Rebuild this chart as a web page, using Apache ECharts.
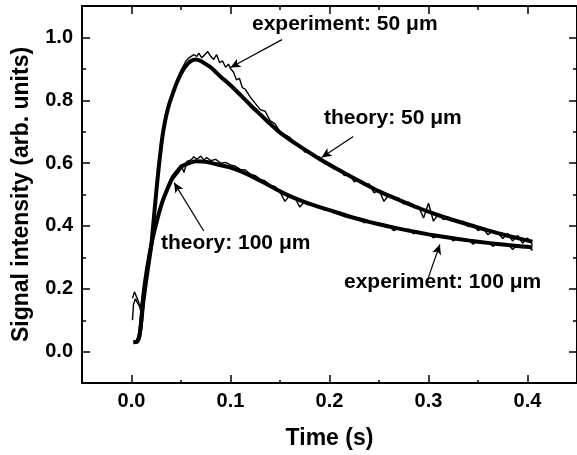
<!DOCTYPE html>
<html>
<head>
<meta charset="utf-8">
<script src="https://cdn.jsdelivr.net/npm/echarts@6/dist/echarts.min.js"></script>
<style>
  html, body { margin: 0; padding: 0; background: #fff; }
  #main { width: 577px; height: 455px; }
</style>
</head>
<body>
<div id="main"></div>
<script>
// tick values
var xMajor = [0, 0.1, 0.2, 0.3, 0.4];
var xMinor = [0.05, 0.15, 0.25, 0.35];
var yMajor = [0, 0.2, 0.4, 0.6, 0.8, 1.0];
var yMinor = [0.1, 0.3, 0.5, 0.7, 0.9];

// theory curves
var theoryTime50 = [0.002, 0.006, 0.008, 0.010, 0.012, 0.015, 0.020, 0.023, 0.026, 0.028, 0.030, 0.032, 0.035, 0.038, 0.041, 0.045, 0.050, 0.055, 0.060, 0.065, 0.070, 0.075, 0.080, 0.090, 0.100, 0.110, 0.120, 0.130, 0.140, 0.150, 0.170, 0.190, 0.210, 0.230, 0.250, 0.270, 0.290, 0.310, 0.330, 0.350, 0.370, 0.390, 0.405];
var theory50 = [0.030, 0.033, 0.050, 0.100, 0.160, 0.230, 0.340, 0.440, 0.540, 0.600, 0.655, 0.700, 0.750, 0.787, 0.815, 0.850, 0.885, 0.910, 0.925, 0.930, 0.925, 0.915, 0.905, 0.875, 0.848, 0.817, 0.785, 0.755, 0.725, 0.697, 0.653, 0.613, 0.577, 0.543, 0.510, 0.483, 0.457, 0.434, 0.414, 0.395, 0.377, 0.361, 0.350];

var theoryTime100 = [0.002, 0.006, 0.009, 0.012, 0.016, 0.021, 0.026, 0.031, 0.036, 0.041, 0.046, 0.051, 0.058, 0.065, 0.075, 0.085, 0.100, 0.110, 0.120, 0.130, 0.140, 0.150, 0.160, 0.170, 0.180, 0.190, 0.200, 0.220, 0.240, 0.260, 0.280, 0.300, 0.320, 0.340, 0.360, 0.380, 0.405];
var theory100 = [0.030, 0.032, 0.070, 0.180, 0.270, 0.355, 0.420, 0.475, 0.515, 0.550, 0.570, 0.590, 0.600, 0.606, 0.604, 0.597, 0.586, 0.574, 0.560, 0.544, 0.527, 0.510, 0.495, 0.482, 0.470, 0.460, 0.450, 0.430, 0.413, 0.398, 0.385, 0.373, 0.363, 0.354, 0.346, 0.339, 0.332];

// experiment traces
var expTime50 = [0.001, 0.003, 0.005, 0.007, 0.010, 0.013, 0.015, 0.020, 0.025, 0.030, 0.035, 0.040, 0.045, 0.050, 0.055, 0.058, 0.060, 0.063, 0.066, 0.068, 0.071, 0.074, 0.077, 0.080, 0.083, 0.086, 0.089, 0.092, 0.095, 0.098, 0.100, 0.103, 0.106, 0.109, 0.112, 0.115, 0.120, 0.125, 0.130, 0.135, 0.140, 0.145, 0.150, 0.155, 0.160, 0.165, 0.170, 0.175, 0.180, 0.185, 0.190, 0.195, 0.200, 0.205, 0.210, 0.215, 0.220, 0.225, 0.230, 0.235, 0.240, 0.245, 0.250, 0.255, 0.260, 0.265, 0.270, 0.275, 0.280, 0.285, 0.290, 0.295, 0.300, 0.305, 0.310, 0.315, 0.320, 0.325, 0.330, 0.335, 0.340, 0.345, 0.350, 0.355, 0.360, 0.365, 0.370, 0.375, 0.380, 0.385, 0.390, 0.395, 0.400, 0.405];
var exp50 = [0.170, 0.190, 0.175, 0.160, 0.120, 0.190, 0.240, 0.350, 0.530, 0.660, 0.755, 0.810, 0.855, 0.895, 0.925, 0.935, 0.940, 0.945, 0.940, 0.950, 0.935, 0.945, 0.955, 0.940, 0.930, 0.945, 0.920, 0.925, 0.905, 0.915, 0.900, 0.890, 0.865, 0.870, 0.840, 0.835, 0.810, 0.790, 0.770, 0.765, 0.735, 0.725, 0.700, 0.690, 0.682, 0.660, 0.658, 0.635, 0.638, 0.620, 0.620, 0.598, 0.600, 0.580, 0.582, 0.560, 0.565, 0.540, 0.548, 0.530, 0.534, 0.505, 0.515, 0.478, 0.500, 0.492, 0.488, 0.470, 0.476, 0.462, 0.462, 0.425, 0.472, 0.415, 0.438, 0.420, 0.428, 0.418, 0.412, 0.415, 0.398, 0.405, 0.385, 0.393, 0.372, 0.385, 0.378, 0.360, 0.376, 0.352, 0.370, 0.345, 0.362, 0.340];

var expTime100 = [0.001, 0.002, 0.004, 0.006, 0.009, 0.012, 0.016, 0.021, 0.026, 0.031, 0.036, 0.041, 0.046, 0.050, 0.053, 0.056, 0.060, 0.063, 0.066, 0.070, 0.073, 0.076, 0.080, 0.085, 0.090, 0.095, 0.100, 0.105, 0.110, 0.115, 0.120, 0.125, 0.130, 0.135, 0.140, 0.145, 0.150, 0.155, 0.160, 0.165, 0.170, 0.175, 0.180, 0.185, 0.190, 0.195, 0.200, 0.205, 0.210, 0.215, 0.220, 0.225, 0.230, 0.235, 0.240, 0.245, 0.250, 0.255, 0.260, 0.265, 0.270, 0.275, 0.280, 0.285, 0.290, 0.295, 0.300, 0.305, 0.310, 0.315, 0.320, 0.325, 0.330, 0.335, 0.340, 0.345, 0.350, 0.355, 0.360, 0.365, 0.370, 0.375, 0.380, 0.385, 0.390, 0.395, 0.400, 0.405];
var exp100 = [0.100, 0.150, 0.168, 0.155, 0.140, 0.190, 0.270, 0.360, 0.430, 0.485, 0.525, 0.560, 0.580, 0.595, 0.570, 0.605, 0.610, 0.620, 0.612, 0.622, 0.610, 0.618, 0.608, 0.612, 0.600, 0.602, 0.594, 0.590, 0.580, 0.578, 0.565, 0.560, 0.548, 0.543, 0.530, 0.525, 0.508, 0.478, 0.498, 0.490, 0.460, 0.478, 0.472, 0.462, 0.462, 0.450, 0.452, 0.443, 0.445, 0.430, 0.432, 0.424, 0.425, 0.410, 0.416, 0.405, 0.410, 0.398, 0.400, 0.385, 0.393, 0.386, 0.390, 0.375, 0.382, 0.376, 0.375, 0.362, 0.370, 0.362, 0.367, 0.352, 0.360, 0.355, 0.357, 0.342, 0.352, 0.345, 0.350, 0.335, 0.345, 0.338, 0.343, 0.325, 0.340, 0.330, 0.338, 0.322];

function zip(xs, ys) {
    var out = [];
    for (var i = 0; i < xs.length; i++) {
        out.push([xs[i], ys[i]]);
    }
    return out;
}

var FONT = '"Liberation Sans", Arial, Helvetica, sans-serif';
var chart = echarts.init(document.getElementById('main'));

function xAxisOf(grid, pos, values, len, main) {
    return {
        type: 'value', gridIndex: grid, position: pos,
        min: -0.05, max: 0.45,
        axisLine: {show: main, onZero: false, lineStyle: {color: '#000', width: 2}},
        splitLine: {show: false},
        axisTick: {show: true, inside: true, length: len, customValues: values,
            lineStyle: {color: '#000', width: 1.5}},
        axisLabel: {show: main && pos == 'bottom', customValues: values, margin: 8,
            formatter: function (v) { return v.toFixed(1); },
            color: '#000', fontSize: 20, fontWeight: 'bold', fontFamily: FONT},
        name: (main && pos == 'bottom') ? 'Time (s)' : '',
        nameLocation: 'middle', nameGap: 44,
        nameTextStyle: {color: '#000', fontSize: 23, fontWeight: 'bold', fontFamily: FONT}
    };
}

function yAxisOf(grid, pos, values, len, main) {
    return {
        type: 'value', gridIndex: grid, position: pos,
        min: -0.1, max: 1.1,
        axisLine: {show: main, onZero: false, lineStyle: {color: '#000', width: 2}},
        splitLine: {show: false},
        axisTick: {show: true, inside: true, length: len, customValues: values,
            lineStyle: {color: '#000', width: 1.5}},
        axisLabel: {show: main && pos == 'left', customValues: values, margin: 9,
            formatter: function (v) { return v.toFixed(1); },
            color: '#000', fontSize: 20, fontWeight: 'bold', fontFamily: FONT},
        name: (main && pos == 'left') ? 'Signal intensity (arb. units)' : '',
        nameLocation: 'middle', nameGap: 49,
        nameTextStyle: {color: '#000', fontSize: 23, fontWeight: 'bold', fontFamily: FONT}
    };
}

function arrow(from, to) {
    return [{coord: from}, {coord: to}];
}

function label(text, x, y) {
    return {
        type: 'text', left: x, top: y,
        style: {text: text, fill: '#000', font: 'bold 21px ' + FONT}
    };
}

var option = {
    animation: false,
    backgroundColor: '#fff',
    grid: [
        {left: 82, top: 6, width: 496, height: 378},
        {left: 82, top: 6, width: 496, height: 378}
    ],
    xAxis: [
        xAxisOf(0, 'bottom', xMajor, 8, true),
        xAxisOf(0, 'top', xMajor, 8, true),
        xAxisOf(1, 'bottom', xMinor, 4, false),
        xAxisOf(1, 'top', xMinor, 4, false)
    ],
    yAxis: [
        yAxisOf(0, 'left', yMajor, 8, true),
        yAxisOf(0, 'right', yMajor, 8, true),
        yAxisOf(1, 'left', yMinor, 4, false),
        yAxisOf(1, 'right', yMinor, 4, false)
    ],
    series: [
        {
            name: 'experiment: 50 μm', type: 'line', xAxisIndex: 0, yAxisIndex: 0,
            data: zip(expTime50, exp50), showSymbol: false,
            lineStyle: {color: '#000', width: 1.4}
        },
        {
            name: 'experiment: 100 μm', type: 'line', xAxisIndex: 0, yAxisIndex: 0,
            data: zip(expTime100, exp100), showSymbol: false,
            lineStyle: {color: '#000', width: 1.4}
        },
        {
            name: 'theory: 50 μm', type: 'line', xAxisIndex: 0, yAxisIndex: 0,
            data: zip(theoryTime50, theory50), showSymbol: false, smooth: 0.2,
            lineStyle: {color: '#000', width: 4}
        },
        {
            name: 'theory: 100 μm', type: 'line', xAxisIndex: 0, yAxisIndex: 0,
            data: zip(theoryTime100, theory100), showSymbol: false, smooth: 0.2,
            lineStyle: {color: '#000', width: 4},
            // pointer arrows for the four labels
            markLine: {
                silent: true, symbol: ['none', 'arrow'], symbolSize: [7, 10],
                label: {show: false},
                lineStyle: {color: '#000', width: 1.2, type: 'solid'},
                data: [
                    arrow([0.152, 0.993], [0.100, 0.904]),
                    arrow([0.224, 0.685], [0.192, 0.618]),
                    arrow([0.073, 0.384], [0.043, 0.538]),
                    arrow([0.300, 0.237], [0.3115, 0.341])
                ]
            }
        }
    ],
    graphic: [
        label('experiment: 50 μm', 252, 14),
        label('theory: 50 μm', 324, 108),
        label('theory: 100 μm', 161, 233),
        label('experiment: 100 μm', 344, 272)
    ]
};

chart.setOption(option);
</script>
</body>
</html>
